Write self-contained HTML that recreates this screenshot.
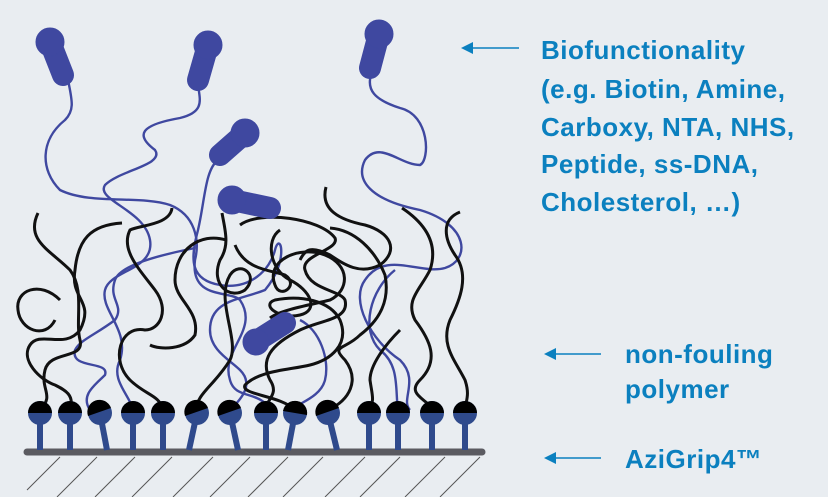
<!DOCTYPE html>
<html><head><meta charset="utf-8"><style>
html,body{margin:0;padding:0;background:#e9edf1;}
svg{display:block}
text{font-family:"Liberation Sans",Arial,sans-serif;font-weight:bold;fill:#0b80bf;font-size:26px;letter-spacing:0.5px}
</style></head><body>
<svg width="828" height="497" viewBox="0 0 828 497" xmlns="http://www.w3.org/2000/svg">
<rect width="828" height="497" fill="#e9edf1"/>
<!-- hatch -->
<g stroke="#555" stroke-width="1">
<line x1="60" y1="457" x2="27" y2="490"/><line x1="97" y1="457" x2="57" y2="497"/>
<line x1="135" y1="457" x2="95" y2="497"/><line x1="172" y1="457" x2="132" y2="497"/>
<line x1="213" y1="457" x2="173" y2="497"/><line x1="250" y1="457" x2="210" y2="497"/>
<line x1="288" y1="457" x2="248" y2="497"/><line x1="323" y1="457" x2="283" y2="497"/>
<line x1="365" y1="457" x2="325" y2="497"/><line x1="400" y1="457" x2="360" y2="497"/>
<line x1="445" y1="457" x2="405" y2="497"/><line x1="480" y1="457" x2="440" y2="497"/>
</g>
<!-- blue chains -->
<g fill="none" stroke="#3f48a0" stroke-width="2.4">
<path d="M68 80 C72 100 75 110 65 120 C40 140 40 170 60 190 C90 205 140 195 170 205 C195 215 200 240 195 260 C190 300 230 290 240 300 C260 330 220 350 230 380 C235 400 260 390 270 410"/>
<path d="M198 85 C200 100 205 112 180 118 C140 125 135 135 155 150 C165 165 120 170 105 185 C95 200 145 210 150 240 C155 270 110 270 105 290 C100 310 130 330 120 360 C110 380 130 395 133 410"/>
<path d="M372 72 C365 90 375 100 400 108 C430 115 430 160 420 165 C400 165 380 140 365 160 C355 180 370 200 420 210 C470 225 470 260 445 268 C420 275 385 250 365 280 C350 300 370 340 400 360 C420 380 400 400 410 410"/>
<path d="M218 160 C205 170 205 200 198 230 C190 260 190 280 220 285 C250 290 270 270 275 250 C280 230 290 260 265 290 C240 300 210 300 210 330 C210 350 230 360 240 370 C255 385 240 400 230 410"/>
<path d="M195 248 C160 255 120 265 115 280 C108 300 125 305 115 320 C95 335 80 340 75 350 C70 370 110 360 105 375 C95 385 80 395 90 410"/>
<path d="M300 320 C320 330 330 360 325 380 C320 400 290 405 295 410"/>
<path d="M395 270 C370 290 360 330 380 350 C400 365 395 390 398 410"/>
</g>
<!-- black chains -->
<g fill="none" stroke="#111" stroke-width="3">
<path d="M38 213 C25 240 50 250 70 270 C85 290 75 320 80 340 C85 360 50 350 45 370 C40 390 55 395 40 410"/>
<path d="M122 223 C90 225 78 240 75 270 C70 300 95 300 80 330 C65 350 40 330 30 345 C20 360 40 380 55 385 C65 390 75 395 70 410"/>
<path d="M60 300 C40 280 15 290 18 310 C20 330 45 340 55 320"/>
<path d="M172 208 C170 225 140 225 130 230 C120 250 140 270 155 290 C170 310 160 330 145 330 C120 325 110 360 130 380 C145 395 160 395 163 410"/>
<path d="M226 240 C200 232 175 250 175 280 C175 300 200 310 195 335 C185 350 160 350 150 345"/>
<path d="M222 213 C225 230 230 245 220 260 C210 285 230 300 245 290 C260 275 240 260 230 275 C215 300 240 340 230 360 C215 385 195 395 197 410"/>
<path d="M240 225 C260 210 320 218 335 238 C340 250 300 255 305 270 C310 290 340 290 345 300 C350 320 320 320 300 330 C270 345 260 360 270 380 C280 395 265 400 266 410"/>
<path d="M235 245 C245 270 270 270 285 275 C300 285 280 300 275 285 C265 260 300 245 325 255 C350 265 350 290 330 300 C310 305 280 310 270 318"/>
<path d="M280 230 C265 240 270 270 290 280 C310 290 320 310 300 315 C280 320 260 305 275 300 C300 295 330 300 340 320 C350 345 330 360 310 365 C290 370 260 370 245 385 C240 395 280 395 295 410"/>
<path d="M326 187 C320 210 340 220 365 225 C390 232 400 250 380 265 C360 275 345 265 330 255 C310 245 305 250 300 260"/>
<path d="M330 228 C355 230 375 250 385 275 C390 300 380 320 360 335 C345 350 330 345 345 360 C360 380 350 400 328 410"/>
<path d="M402 208 C420 220 440 240 430 270 C420 290 405 300 415 320 C430 340 440 360 420 380 C405 395 430 400 432 410"/>
<path d="M460 212 C440 220 445 240 455 255 C470 275 460 300 450 320 C440 345 455 360 465 380 C470 395 466 400 465 410"/>
<path d="M400 330 C385 345 370 365 370 380 C372 395 375 400 369 410"/>
</g>
<!-- bio capsules -->
<g stroke="#3f48a0" stroke-linecap="round" fill="#3f48a0">
<line x1="50" y1="42" x2="63" y2="75" stroke-width="22"/><circle cx="50" cy="42" r="14"/>
<line x1="208" y1="45" x2="198" y2="80" stroke-width="22"/><circle cx="208" cy="45" r="14"/>
<line x1="379" y1="34" x2="370" y2="68" stroke-width="22"/><circle cx="379" cy="34" r="14"/>
<line x1="245" y1="133" x2="220" y2="155" stroke-width="22"/><circle cx="245" cy="133" r="14"/>
<line x1="232" y1="200" x2="270" y2="208" stroke-width="22"/><circle cx="232" cy="200" r="14"/>
<line x1="285" y1="323" x2="255" y2="342" stroke-width="22"/><circle cx="256" cy="342" r="13"/>
</g>
<!-- bar -->
<line x1="27" y1="452" x2="482" y2="452" stroke="#5b5b61" stroke-width="7" stroke-linecap="round"/>
<!-- anchors -->
<g fill="#2f4a8c" stroke="#2f4a8c">
<g stroke-width="6">
<line x1="40" y1="413" x2="40" y2="450"/><line x1="70" y1="413" x2="70" y2="450"/>
<line x1="100" y1="413" x2="107" y2="450"/><line x1="133" y1="413" x2="133" y2="450"/>
<line x1="163" y1="413" x2="163" y2="450"/><line x1="197" y1="413" x2="189" y2="450"/>
<line x1="230" y1="413" x2="238" y2="450"/><line x1="266" y1="413" x2="266" y2="450"/>
<line x1="295" y1="413" x2="288" y2="450"/><line x1="328" y1="413" x2="337" y2="450"/>
<line x1="369" y1="413" x2="369" y2="450"/><line x1="398" y1="413" x2="398" y2="450"/>
<line x1="432" y1="413" x2="432" y2="450"/><line x1="465" y1="413" x2="465" y2="450"/>
</g>
<g stroke="none">
<circle cx="40" cy="413" r="12"/><circle cx="70" cy="413" r="12"/><circle cx="100" cy="413" r="12"/>
<circle cx="133" cy="413" r="12"/><circle cx="163" cy="413" r="12"/><circle cx="197" cy="413" r="12"/>
<circle cx="230" cy="413" r="12"/><circle cx="266" cy="413" r="12"/><circle cx="295" cy="413" r="12"/>
<circle cx="328" cy="413" r="12"/><circle cx="369" cy="413" r="12"/><circle cx="398" cy="413" r="12"/>
<circle cx="432" cy="413" r="12"/><circle cx="465" cy="413" r="12"/>
</g>
<g fill="#000" stroke="none">
<path d="M28 413 A12 12 0 0 1 52 413Z"/><path d="M58 413 A12 12 0 0 1 82 413Z"/>
<path d="M88 416 A12 12 0 0 1 111 408Z"/><path d="M121 413 A12 12 0 0 1 145 413Z"/>
<path d="M151 413 A12 12 0 0 1 175 413Z"/><path d="M185 416 A12 12 0 0 1 208 408Z"/>
<path d="M218 416 A12 12 0 0 1 241 408Z"/><path d="M254 413 A12 12 0 0 1 278 413Z"/>
<path d="M283 411 A12 12 0 0 1 307 415Z"/><path d="M316 416 A12 12 0 0 1 339 408Z"/>
<path d="M357 413 A12 12 0 0 1 381 413Z"/><path d="M386 413 A12 12 0 0 1 410 413Z"/>
<path d="M420 413 A12 12 0 0 1 444 413Z"/><path d="M453 413 A12 12 0 0 1 477 413Z"/>
</g>
</g>
<!-- arrows -->
<g stroke="#0b80bf" stroke-width="1.5" fill="#0b80bf">
<line x1="470" y1="48" x2="519" y2="48"/><path d="M461 48 L473 42 L473 54Z" stroke="none"/>
<line x1="553" y1="354" x2="601" y2="354"/><path d="M544 354 L556 348 L556 360Z" stroke="none"/>
<line x1="553" y1="458" x2="601" y2="458"/><path d="M544 458 L556 452 L556 464Z" stroke="none"/>
</g>
<text x="541" y="59">Biofunctionality</text>
<text x="541" y="98">(e.g. Biotin, Amine,</text>
<text x="541" y="136">Carboxy, NTA, NHS,</text>
<text x="541" y="173">Peptide, ss-DNA,</text>
<text x="541" y="211">Cholesterol, …)</text>
<text x="625" y="363">non-fouling</text>
<text x="625" y="398">polymer</text>
<text x="625" y="468">AziGrip4™</text>
</svg>
</body></html>
